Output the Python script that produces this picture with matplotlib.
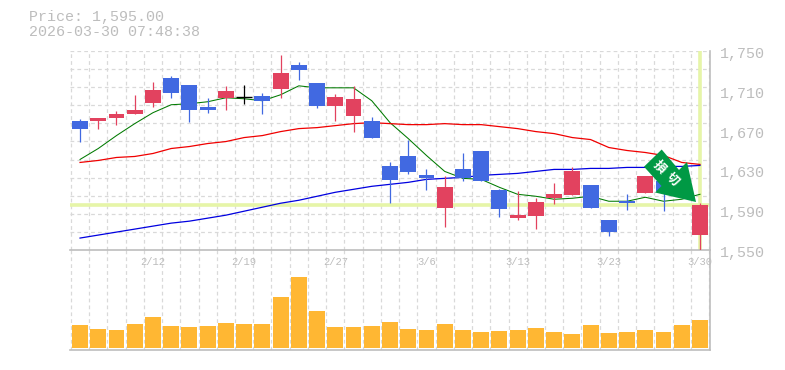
import numpy as np
import matplotlib
matplotlib.use('Agg')
import matplotlib.pyplot as plt
from matplotlib.patches import Polygon

plt.rcParams['font.family'] = ['Liberation Mono', 'DejaVu Sans Mono']

highs = [1682, 1683, 1690, 1706, 1719, 1725, 1716, 1703, 1715, 1716, 1708, 1746, 1739, 1718, 1707, 1715, 1684, 1638,
         1661, 1631, 1624, 1647, 1650, 1611, 1609, 1602, 1617, 1633, 1615, 1580, 1606, 1624, 1622, 1620, 1597]
lows = [1659, 1672, 1676, 1687, 1694, 1703, 1679, 1688, 1691, 1697, 1687, 1703, 1721, 1693, 1680, 1669, 1663, 1597,
        1626, 1610, 1573, 1619, 1619, 1583, 1580, 1571, 1596, 1605, 1592, 1564, 1590, 1607, 1589, 1605, 1550]
opens = [1680, 1680, 1683, 1687, 1698, 1723, 1716, 1694, 1703, 1704, 1705, 1712, 1736, 1718, 1695, 1685, 1680, 1634,
         1644, 1625, 1592, 1631, 1650, 1610, 1582, 1584, 1602, 1605, 1615, 1580, 1599, 1607, 1619, 1615, 1565]
closes = [1672, 1683, 1687, 1691, 1711, 1708, 1691, 1691, 1710, 1704, 1700, 1728, 1731, 1695, 1704, 1702, 1663, 1620,
          1628, 1622, 1613, 1622, 1619, 1591, 1585, 1598, 1606, 1629, 1592, 1568, 1597, 1624, 1609, 1605, 1595]

ma_short = [1641, 1652, 1665, 1677, 1688, 1696, 1697, 1699, 1703, 1702, 1700, 1706, 1715, 1713, 1713, 1713, 1700, 1678,
            1662, 1645, 1629, 1622, 1621, 1613, 1606, 1604, 1601, 1602, 1604, 1599, 1599, 1603, 1599, 1601, 1606]
ma_mid = [1638, 1640, 1643, 1644, 1647, 1652, 1654, 1657, 1659, 1663, 1665, 1669, 1672, 1673, 1675, 1677, 1678, 1677,
          1676, 1676, 1677, 1676, 1676, 1674, 1672, 1669, 1667, 1663, 1661, 1653, 1650, 1648, 1645, 1638, 1636]
ma_long = [1562, 1565, 1568, 1571, 1574, 1577, 1579, 1582, 1585, 1589, 1593, 1597, 1600, 1604, 1608, 1611, 1614, 1616,
           1618, 1621, 1622, 1623, 1625, 1626, 1627, 1629, 1631, 1631, 1632, 1632, 1633, 1633, 1634, 1634, 1635]

volumes = [23, 19, 18, 24, 31, 22, 21, 22, 25, 24, 24, 51, 71, 37, 21, 21, 22, 26,
           19, 18, 24, 18, 16, 17, 18, 20, 16, 14, 23, 15, 16, 18, 16, 23, 28]

date_pos = [4, 9, 14, 19, 24, 29, 34]
date_labels = ['2/12', '2/19', '2/27', '3/6', '3/13', '3/23', '3/30']
price_ticks = [1550, 1590, 1630, 1670, 1710, 1750]
last_price = 1595

red = '#e2425f'
blue = '#4169e1'
gray = '#bdbdbd'
hilite = '#e6f5a8'

W, H = 785, 370
fig = plt.figure(figsize=(W / 100, H / 100), dpi=100)
ax = fig.add_axes([70 / W, 1 - 250 / H, 640 / W, 199 / H])
axv = fig.add_axes([70 / W, 1 - 350 / H, 640 / W, 100 / H])
ax.set_zorder(2)
ax.patch.set_visible(False)

x = np.arange(len(opens))
for a in (ax, axv):
    a.set_xlim(-0.55, 34.55)
    a.set_xticks([])
    a.set_yticks([])
    for v in x:
        a.axvline(v - 0.5, color='#d9d9d9', lw=0.9, ls=(0, (3, 2.5)), zorder=1)
    a.axvline(34.5, color='#d9d9d9', lw=0.9, ls=(0, (3, 2.5)), zorder=1)
    a.spines['left'].set_visible(False)
    a.spines['top'].set_visible(False)
    a.spines['right'].set_color(gray)
    a.spines['bottom'].set_color(gray)
    a.spines['right'].set_linewidth(1.2)
    a.spines['bottom'].set_linewidth(1.2)

ax.set_ylim(1550, 1750)
for v in np.linspace(1550, 1750, 12)[1:]:
    ax.axhline(v, color='#d9d9d9', lw=0.9, ls=(0, (3, 2.5)), zorder=1)

# current price cross
ax.axhline(last_price, color=hilite, lw=2.6, zorder=2)
ax.axvline(x[-1], color=hilite, lw=2.6, zorder=2)

ax.plot(x, ma_short, color='#007a00', lw=0.75, zorder=3)
ax.plot(x, ma_mid, color='#f00000', lw=0.9, zorder=3)
ax.plot(x, ma_long, color='#0000e0', lw=0.9, zorder=3)

for i in x:
    o, c = opens[i], closes[i]
    col = red if c > o else blue if c < o else 'black'
    ax.vlines(i, lows[i], highs[i], color=col, lw=0.9, zorder=4)
    if c == o:
        ax.hlines(o, i - 0.44, i + 0.44, color=col, lw=1.0, zorder=4)
    else:
        ax.bar(i, abs(c - o), bottom=min(o, c), width=0.87, color=col, zorder=4)

axv.set_ylim(-2, 98)
axv.bar(x, volumes, width=0.87, color='#ffb733', zorder=2)

# signal arrow, in image pixels
arrow_px = [(661.7, 149.5), (644, 166.7), (661.5, 186), (655, 192.5), (696, 202), (687, 162), (679, 170)]
arrow_pts = [(px / W, 1 - py / H) for px, py in arrow_px]
fig.add_artist(Polygon(arrow_pts, closed=True, transform=fig.transFigure, facecolor='#009944', edgecolor='none', zorder=10))
for ch, px, py in [('損', 659, 167), ('切', 672, 179)]:
    fig.text(px / W, 1 - py / H, ch, color='white', fontsize=9, fontweight='bold', rotation=-45, ha='center',
             va='center', family=['Noto Sans CJK JP', 'DejaVu Sans'], zorder=11)

for v in price_ticks:
    ax.annotate(f'{v:,}', (1, v), xycoords=('axes fraction', 'data'), xytext=(10, -3), textcoords='offset pixels',
                ha='left', va='center', color=gray, fontsize=10.8, annotation_clip=False)
for pos, lab in zip(date_pos, date_labels):
    ax.annotate(lab, (pos, 1550), xycoords='data', xytext=(0, -12), textcoords='offset pixels', ha='center',
                va='center', color=gray, fontsize=7.6, annotation_clip=False, zorder=12)

fig.text(29 / W, 1 - 17 / H, f'Price: {last_price:,}.00', color=gray, fontsize=10.8, va='center')
fig.text(29 / W, 1 - 32 / H, '2026-03-30 07:48:38', color=gray, fontsize=10.8, va='center')

fig.savefig('out.png', dpi=100)
